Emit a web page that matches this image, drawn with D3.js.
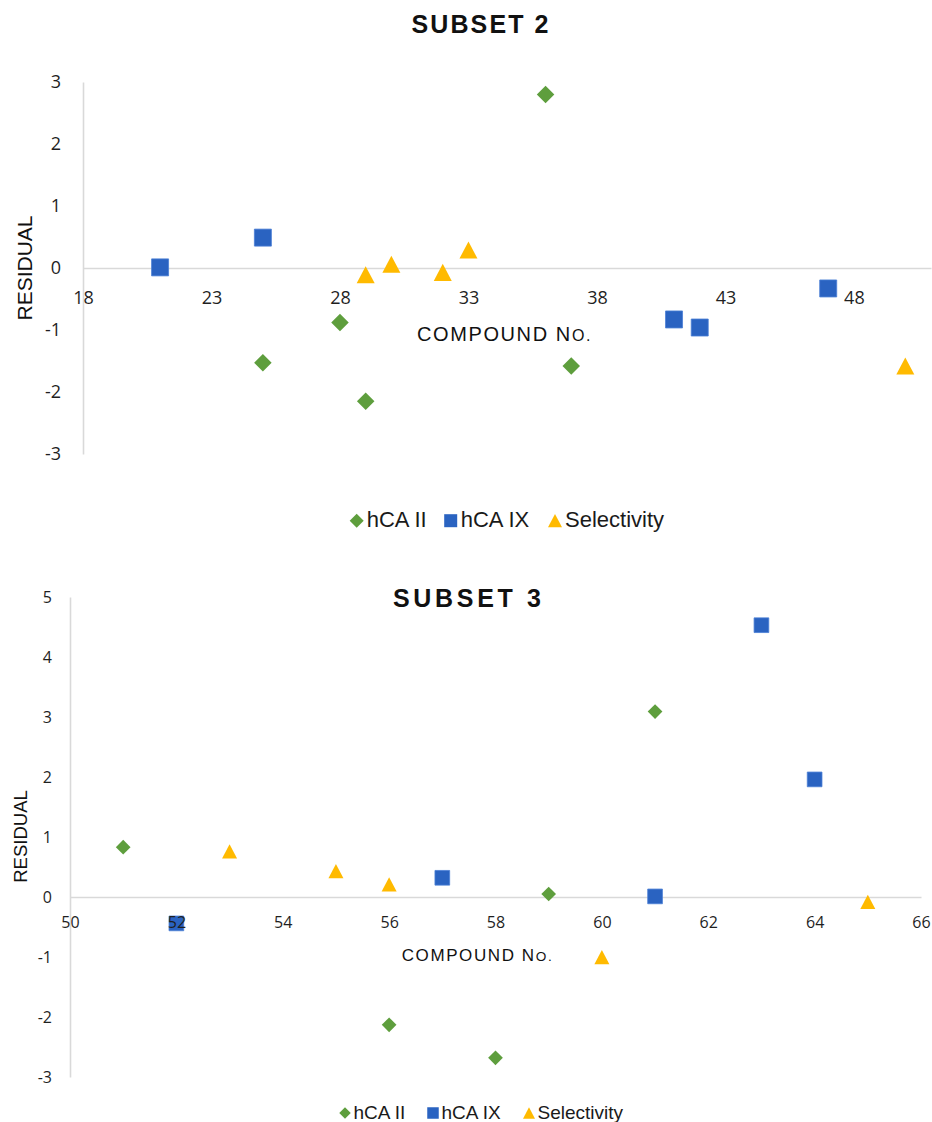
<!DOCTYPE html>
<html>
<head>
<meta charset="utf-8">
<script src="https://cdn.jsdelivr.net/npm/d3@7"></script>
<style>
  body { margin: 0; background: #fff; }
  svg { display: block; }
</style>
</head>
<body>
<svg id="chart" width="932" height="1122"></svg>
<script>
// ---- Data ----
const seriesNames = ["hCA II", "hCA IX", "Selectivity"];

// Subset 2 residuals by compound number
const subset2HcaIIX = [25, 28, 29, 36, 37];
const subset2HcaIIY = [-1.53, -0.88, -2.15, 2.80, -1.58];
const subset2HcaIXX = [21, 25, 41, 42, 47];
const subset2HcaIXY = [0.01, 0.49, -0.83, -0.96, -0.33];
const subset2SelX = [29, 30, 32, 33, 50];
const subset2SelY = [-0.11, 0.06, -0.07, 0.29, -1.58];
const subset2XTicks = [18, 23, 28, 33, 38, 43, 48];
const subset2YTicks = [-3, -2, -1, 0, 1, 2, 3];

// Subset 3 residuals by compound number
const subset3HcaIIX = [51, 56, 58, 59, 61];
const subset3HcaIIY = [0.83, -2.13, -2.68, 0.05, 3.09];
const subset3HcaIXX = [52, 57, 61, 63, 64];
const subset3HcaIXY = [-0.44, 0.32, 0.01, 4.53, 1.96];
const subset3SelX = [53, 55, 56, 60, 65];
const subset3SelY = [0.76, 0.43, 0.21, -1.00, -0.08];
const subset3XTicks = [50, 52, 54, 56, 58, 60, 62, 64, 66];
const subset3YTicks = [-3, -2, -1, 0, 1, 2, 3, 4, 5];

// ---- Styling ----
const seriesColors = ["#5E9E3D", "#2A63C1", "#FFBA00"];
const axisColor = "#D9D9D9";
const labelFont = "'Open Sans', 'Noto Sans', sans-serif";
const arialFont = "'Liberation Sans', Arial, sans-serif";

// Marker shapes (size = width squared)
const diamondType = { draw(ctx, size) { const r = Math.sqrt(size) / 2;
  ctx.moveTo(0, -r); ctx.lineTo(r, 0); ctx.lineTo(0, r); ctx.lineTo(-r, 0); ctx.closePath(); } };
const squareType = { draw(ctx, size) { const w = Math.sqrt(size);
  ctx.rect(-w / 2, -w / 2, w, w); } };
const triangleType = { draw(ctx, size) { const w = Math.sqrt(size), h = w * 0.95;
  ctx.moveTo(0, -h / 2); ctx.lineTo(w / 2, h / 2); ctx.lineTo(-w / 2, h / 2); ctx.closePath(); } };
const shapeTypes = [diamondType, squareType, triangleType];

const svg = d3.select("#chart");

function drawPanel(cfg) {
  const g = svg.append("g");
  const x = d3.scaleLinear().domain(cfg.xDomain).range(cfg.xRange);
  const y = d3.scaleLinear().domain(cfg.yDomain).range(cfg.yRange);
  const x0 = x(cfg.xDomain[0]);
  const y0 = y(0);

  // Axis lines (drawn beneath the markers)
  const lines = g.append("g");
  lines.append("g").attr("transform", `translate(0,${y0})`)
    .call(d3.axisBottom(x).tickValues([]).tickSizeOuter(0));
  lines.append("g").attr("transform", `translate(${x0},0)`)
    .call(d3.axisLeft(y).tickValues([]).tickSizeOuter(0));
  lines.selectAll(".domain").attr("stroke", axisColor).attr("stroke-width", 1.6);

  // Markers
  cfg.series.forEach((s, i) => {
    const pts = s.xs.map((v, k) => [v, s.ys[k]]);
    const sym = d3.symbol().type(shapeTypes[i]).size(cfg.markerW[i] * cfg.markerW[i]);
    g.append("g").selectAll("path").data(pts).join("path")
      .attr("transform", d => `translate(${x(d[0])},${y(d[1])})`)
      .attr("d", sym)
      .attr("fill", seriesColors[i])
      .attr("stroke", i === 1 ? "#4A7FD6" : "none")
      .attr("stroke-width", i === 1 ? 0.8 : 0);
  });

  // Tick labels (on top of the markers)
  const xa = g.append("g").attr("transform", `translate(0,${y0})`)
    .call(d3.axisBottom(x).tickValues(cfg.xTicks).tickSize(0).tickPadding(cfg.xPad).tickFormat(d3.format("d")));
  const ya = g.append("g").attr("transform", `translate(${x0},0)`)
    .call(d3.axisLeft(y).tickValues(cfg.yTicks).tickSize(0).tickPadding(cfg.yPad).tickFormat(d3.format("d")));
  [xa, ya].forEach(a => {
    a.select(".domain").remove();
    a.attr("font-family", null).attr("font-size", null);
    a.selectAll("text").attr("font-family", labelFont).attr("font-size", cfg.tickSize).attr("fill", "#1f1f1f");
  });
  ya.selectAll("text").text(d => d < 0 ? "-" + Math.abs(d) : d);

  // Title
  g.append("text")
    .attr("x", cfg.title.x).attr("y", cfg.title.y)
    .attr("text-anchor", "middle")
    .attr("font-family", arialFont).attr("font-weight", "bold")
    .attr("font-size", cfg.title.size)
    .attr("textLength", cfg.title.len).attr("lengthAdjust", "spacing")
    .attr("fill", "#111")
    .text(cfg.title.text);

  // Y axis title
  g.append("text")
    .attr("transform", `translate(${cfg.yTitle.x},${cfg.yTitle.y}) rotate(-90)`)
    .attr("text-anchor", "middle")
    .attr("font-family", arialFont).attr("font-size", cfg.yTitle.size)
    .attr("fill", "#111")
    .text("RESIDUAL");

  // X axis title with small-caps "o."
  const xt = g.append("text")
    .attr("x", cfg.xTitle.x).attr("y", cfg.xTitle.y)
    .attr("text-anchor", "middle")
    .attr("font-family", arialFont).attr("font-size", cfg.xTitle.size)
    .attr("letter-spacing", cfg.xTitle.spacing)
    .attr("fill", "#111");
  xt.append("tspan").text("COMPOUND N");
  xt.append("tspan").attr("font-size", cfg.xTitle.size * 0.8).text("O.");

  // Legend
  const lg = g.append("g");
  seriesNames.forEach((name, i) => {
    const cx = cfg.legend.xs[i];
    const w = cfg.legend.markerW[i];
    lg.append("path")
      .attr("transform", `translate(${cx},${cfg.legend.markerY})`)
      .attr("d", d3.symbol().type(shapeTypes[i]).size(w * w))
      .attr("fill", seriesColors[i]);
    lg.append("text")
      .attr("x", cx + cfg.legend.offset).attr("y", cfg.legend.baseline)
      .attr("font-family", arialFont).attr("font-size", cfg.legend.size)
      .attr("fill", "#1a1a1a")
      .text(name);
  });
}

drawPanel({
  series: [
    { xs: subset2HcaIIX, ys: subset2HcaIIY },
    { xs: subset2HcaIXX, ys: subset2HcaIXY },
    { xs: subset2SelX, ys: subset2SelY }
  ],
  xDomain: [18, 51], xRange: [83, 931],
  yDomain: [-3, 3], yRange: [454, 82],
  xTicks: subset2XTicks, yTicks: subset2YTicks,
  tickSize: 18, xPad: 23, yPad: 22,
  markerW: [17.5, 17, 18],
  title: { text: "SUBSET 2", x: 480, y: 33, size: 25, len: 137 },
  yTitle: { x: 31.5, y: 268, size: 21 },
  xTitle: { x: 504.5, y: 341, size: 20, spacing: 1.6 },
  legend: { xs: [356.7, 450.7, 555], markerY: 520.7, baseline: 527, offset: 10,
            size: 22, markerW: [14, 13, 14] }
});

drawPanel({
  series: [
    { xs: subset3HcaIIX, ys: subset3HcaIIY },
    { xs: subset3HcaIXX, ys: subset3HcaIXY },
    { xs: subset3SelX, ys: subset3SelY }
  ],
  xDomain: [50, 66], xRange: [70, 921],
  yDomain: [-3, 5], yRange: [1077, 597],
  xTicks: subset3XTicks, yTicks: subset3YTicks,
  tickSize: 16, xPad: 20, yPad: 18,
  markerW: [14.7, 14.7, 15],
  title: { text: "SUBSET 3", x: 467, y: 606.7, size: 25, len: 148 },
  yTitle: { x: 26.5, y: 836.5, size: 18.5 },
  xTitle: { x: 477.5, y: 960.7, size: 17, spacing: 1.6 },
  legend: { xs: [345, 433, 529], markerY: 1113, baseline: 1119, offset: 8.5,
            size: 19, markerW: [11.5, 11.5, 12] }
});
</script>
</body>
</html>
